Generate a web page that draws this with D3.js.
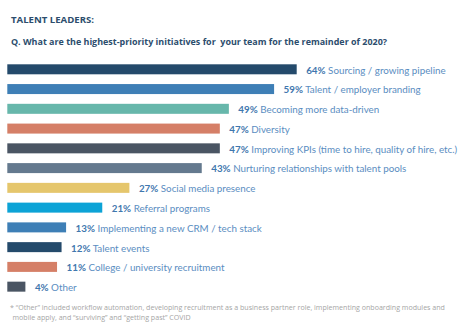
<!DOCTYPE html>
<html>
<head>
<meta charset="utf-8">
<script src="https://cdn.jsdelivr.net/npm/d3@7"></script>
<style>
  html, body { margin: 0; padding: 0; background: #fff; }
  svg { display: block; font-family: "Open Sans", Lato, sans-serif; }
</style>
</head>
<body>
<script>
const categories = [
  "Sourcing / growing pipeline",
  "Talent / employer branding",
  "Becoming more data-driven",
  "Diversity",
  "Improving KPIs (time to hire, quality of hire, etc.)",
  "Nurturing relationships with talent pools",
  "Social media presence",
  "Referral programs",
  "Implementing a new CRM / tech stack",
  "Talent events",
  "College / university recruitment",
  "Other"
];
const values = [64, 59, 49, 47, 47, 43, 27, 21, 13, 12, 11, 4];
const colors = ["#244a6b", "#3e7fb6", "#67b7ab", "#d57f67", "#4a5563", "#64798e",
                "#e5c66c", "#0ca3d6", "#3e7fb6", "#244a6b", "#d57f67", "#4a5563"];
const title = "TALENT LEADERS:";
const question = "Q. What are the highest-priority initiatives for  your team for the remainder of 2020?";
const footnote = [
  "* \u201COther\u201D included workflow automation, developing recruitment as a business partner role, implementing onboarding modules and",
  "mobile apply, and \u201Csurviving\u201D and \u201Cgetting past\u201D COVID"
];

const W = 468, H = 330;
const svg = d3.select("body").append("svg").attr("width", W).attr("height", H);

const x = d3.scaleLinear().domain([0, 64]).range([7.3, 296.7]);
const y = d3.scaleBand().domain(categories).range([59.42, 296.54])
  .paddingInner(0.494).paddingOuter(0.247);

svg.append("text").attr("x", 11).attr("y", 23.3)
  .attr("font-size", 9.6).attr("font-weight", 700).attr("fill", "#2c4d6d")
  .text(title);
svg.append("text").attr("x", 11).attr("y", 44.5)
  .attr("font-size", 8.95).attr("font-weight", 700).attr("fill", "#2c4d6d")
  .style("white-space", "pre")
  .text(question);

const rows = svg.append("g").selectAll("g").data(categories).join("g");
rows.append("rect")
  .attr("x", x(0))
  .attr("y", d => y(d))
  .attr("width", (d, i) => x(values[i]) - x(0))
  .attr("height", y.bandwidth())
  .attr("fill", (d, i) => colors[i]);

const lbl = rows.append("text")
  .attr("x", (d, i) => x(values[i]) + 9.5)
  .attr("y", d => y(d) + y.bandwidth() - 0.6)
  .attr("font-family", "Lato, 'Open Sans', sans-serif")
  .attr("font-size", 9.8);
lbl.append("tspan").attr("font-weight", 700).attr("fill", "#3f77ae")
  .text((d, i) => values[i] + "%");
lbl.append("tspan").attr("fill", "#5a8dc1").text(d => " " + d);

svg.append("g").selectAll("text").data(footnote).join("text")
  .attr("x", (d, i) => i === 0 ? 10 : 12.5)
  .attr("y", (d, i) => 310 + i * 10)
  .attr("font-size", 7.08).attr("fill", "#a5a5a5")
  .text(d => d);
</script>
</body>
</html>
